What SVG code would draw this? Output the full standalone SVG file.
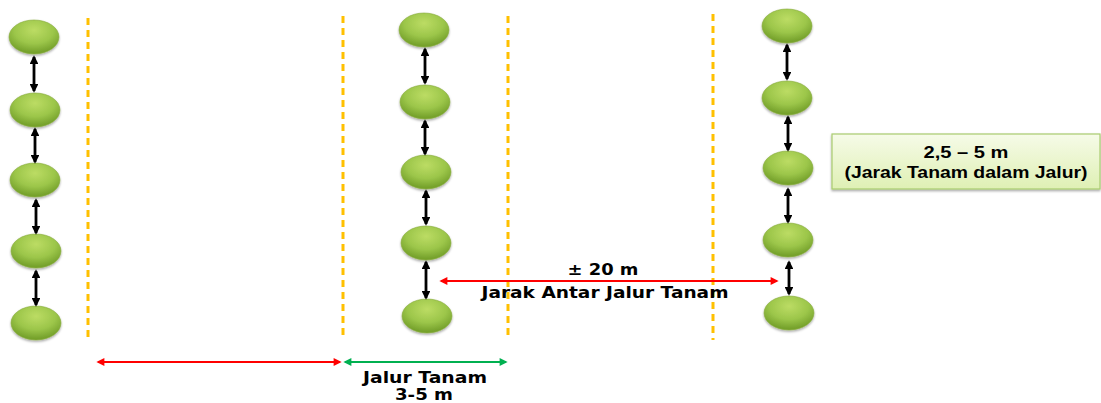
<svg xmlns="http://www.w3.org/2000/svg" width="1101" height="403" viewBox="0 0 1101 403">
<style>
.tree{fill:url(#g);stroke:#8aad3f;stroke-width:0.6;filter:url(#sh)}
.dash{stroke:#FFC000;stroke-width:3;stroke-dasharray:7 5;fill:none}
.blk{stroke:#000;stroke-width:2.8;fill:none;marker-start:url(#ab);marker-end:url(#ab)}
.red{stroke:#FF0000;stroke-width:2;fill:none;marker-start:url(#ar);marker-end:url(#ar)}
.grn{stroke:#00B050;stroke-width:2;fill:none;marker-start:url(#ag);marker-end:url(#ag)}
.t{font-family:"DejaVu Sans",Verdana,sans-serif;font-weight:bold;font-size:15px;fill:#000;text-anchor:middle}
.b{font-family:"Liberation Sans",Arial,sans-serif;font-weight:bold;font-size:16px;fill:#000;text-anchor:middle}
</style>
<defs>
<radialGradient id="g" cx="0.5" cy="0.3" r="0.65">
<stop offset="0" stop-color="#bcdc64"/>
<stop offset="0.6" stop-color="#9cc64a"/>
<stop offset="1" stop-color="#76a22c"/>
</radialGradient>
<linearGradient id="bx" x1="0" y1="0" x2="0" y2="1">
<stop offset="0" stop-color="#f6fbe8"/>
<stop offset="1" stop-color="#dff0b4"/>
</linearGradient>
<filter id="sh" x="-20%" y="-20%" width="140%" height="150%">
<feDropShadow dx="0" dy="1.5" stdDeviation="1.2" flood-color="#000" flood-opacity="0.35"/>
</filter>
<marker id="ab" viewBox="0 0 10 10" refX="8" refY="5" markerWidth="3.2" markerHeight="3.2" orient="auto-start-reverse" markerUnits="strokeWidth"><path d="M0,0 L10,5 L0,10 z" fill="#000"/></marker>
<marker id="ar" viewBox="0 0 10 10" refX="8" refY="5" markerWidth="5" markerHeight="4" orient="auto-start-reverse" markerUnits="strokeWidth"><path d="M0,0 L10,5 L0,10 z" fill="#FF0000"/></marker>
<marker id="ag" viewBox="0 0 10 10" refX="8" refY="5" markerWidth="5" markerHeight="4" orient="auto-start-reverse" markerUnits="strokeWidth"><path d="M0,0 L10,5 L0,10 z" fill="#00B050"/></marker>
</defs>

<g id="guides">
<line class="dash" x1="88" y1="18" x2="88" y2="340"/>
<line class="dash" x1="343" y1="16" x2="343" y2="340"/>
<line class="dash" x1="508" y1="16" x2="508" y2="340"/>
<line class="dash" x1="713" y1="14" x2="713" y2="340"/>
</g>

<g id="col1">
<ellipse id="t1a" class="tree" cx="34" cy="37" rx="25" ry="17"/>
<ellipse id="t1b" class="tree" cx="35" cy="110" rx="25" ry="17"/>
<ellipse id="t1c" class="tree" cx="35" cy="180" rx="25" ry="17"/>
<ellipse id="t1d" class="tree" cx="36" cy="251" rx="25" ry="17"/>
<ellipse id="t1e" class="tree" cx="36" cy="323" rx="25" ry="17"/>
</g>
<g id="col2">
<ellipse id="t2a" class="tree" cx="424" cy="30" rx="25" ry="17"/>
<ellipse id="t2b" class="tree" cx="425" cy="102" rx="25" ry="17"/>
<ellipse id="t2c" class="tree" cx="426" cy="172" rx="25" ry="17"/>
<ellipse id="t2d" class="tree" cx="426" cy="243" rx="25" ry="17"/>
<ellipse id="t2e" class="tree" cx="427" cy="316" rx="25" ry="17"/>
</g>
<g id="col3">
<ellipse id="t3a" class="tree" cx="787" cy="26" rx="25" ry="17"/>
<ellipse id="t3b" class="tree" cx="787" cy="98" rx="25" ry="17"/>
<ellipse id="t3c" class="tree" cx="788" cy="168" rx="25" ry="17"/>
<ellipse id="t3d" class="tree" cx="788" cy="240" rx="25" ry="17"/>
<ellipse id="t3e" class="tree" cx="789" cy="313" rx="25" ry="17"/>
</g>

<g id="connectors">
<line class="blk" x1="34" y1="57" x2="34" y2="91"/>
<line class="blk" x1="35" y1="129" x2="35" y2="162"/>
<line class="blk" x1="36" y1="200" x2="36" y2="233"/>
<line class="blk" x1="36" y1="271" x2="36" y2="305"/>
<line class="blk" x1="425" y1="49" x2="425" y2="83"/>
<line class="blk" x1="425" y1="121" x2="425" y2="154"/>
<line class="blk" x1="426" y1="191" x2="426" y2="224"/>
<line class="blk" x1="426" y1="262" x2="426" y2="298"/>
<line class="blk" x1="787" y1="45" x2="787" y2="79"/>
<line class="blk" x1="788" y1="117" x2="788" y2="150"/>
<line class="blk" x1="788" y1="189" x2="788" y2="222"/>
<line class="blk" x1="789" y1="262" x2="789" y2="294"/>
<line class="red" x1="441" y1="281" x2="777" y2="281"/>
<line class="red" x1="98" y1="362" x2="340" y2="362"/>
<line class="grn" x1="345" y1="362" x2="506" y2="362"/>
</g>

<g id="label-distance">
<text class="t" x="603" y="275" textLength="71" lengthAdjust="spacingAndGlyphs">± 20 m</text>
<text class="t" x="605" y="298" textLength="247" lengthAdjust="spacingAndGlyphs">Jarak Antar Jalur Tanam</text>
</g>
<g id="label-strip">
<text class="t" x="425" y="383" font-size="14" textLength="124" lengthAdjust="spacingAndGlyphs">Jalur Tanam</text>
<text class="t" x="424" y="400" font-size="14" textLength="58" lengthAdjust="spacingAndGlyphs">3-5 m</text>
</g>
<g id="label-box">
<rect x="832" y="134" width="268" height="55" fill="url(#bx)" stroke="#a9cc6e" stroke-width="1.2" filter="url(#sh)"/>
<text class="b" x="966" y="158" font-size="15" textLength="85" lengthAdjust="spacingAndGlyphs">2,5 – 5 m</text>
<text class="b" x="966" y="178" textLength="243" lengthAdjust="spacingAndGlyphs">(Jarak Tanam dalam Jalur)</text>
</g>
</svg>
